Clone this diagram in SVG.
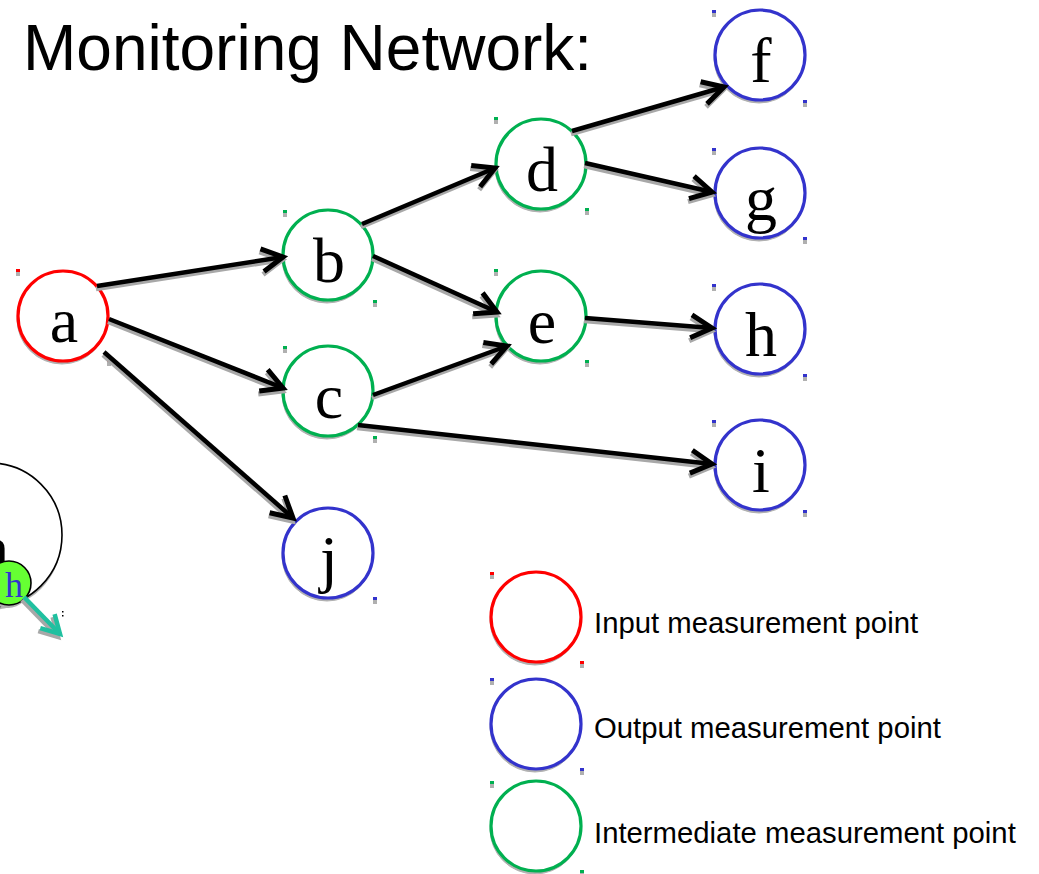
<svg xmlns="http://www.w3.org/2000/svg" width="1039" height="874" viewBox="0 0 1039 874">
<defs>
<style>
.bg{fill:#fff}
.sh{fill:#b0b0b0;stroke:#b0b0b0}
.node{fill:#fff;stroke-width:3.2}
.in{stroke:#ff0000}
.out{stroke:#3333cc}
.mid{stroke:#00b050}
.lbl{font-family:"Liberation Serif",serif;font-size:64px;text-anchor:middle;fill:#000}
.title{font-family:"Liberation Sans",sans-serif;font-size:64px;fill:#000}
.leg{font-family:"Liberation Sans",sans-serif;font-size:29.3px;fill:#000}
.e{fill:none;stroke:#000;stroke-width:4.5;marker-end:url(#ah)}
.es{fill:none;stroke:#a8a8a8;stroke-width:4.5;marker-end:url(#ahs)}
.sqr{fill:#ff0000}.sqb{fill:#3333cc}.sqg{fill:#00b050}.sqs{fill:#b0b0b0}
</style>
<marker id="ah" markerUnits="userSpaceOnUse" markerWidth="30" markerHeight="30" refX="26" refY="15" orient="auto" overflow="visible">
<path d="M5,3.5 L26,15 L5,26.5" fill="none" stroke="#000" stroke-width="5"/>
</marker>
<marker id="ahs" markerUnits="userSpaceOnUse" markerWidth="30" markerHeight="30" refX="26" refY="15" orient="auto" overflow="visible">
<path d="M5,3.5 L26,15 L5,26.5" fill="none" stroke="#a8a8a8" stroke-width="5"/>
</marker>
<marker id="aht" markerUnits="userSpaceOnUse" markerWidth="30" markerHeight="30" refX="22" refY="12" orient="auto" overflow="visible">
<path d="M4,2 L22,12 L4,22" fill="none" stroke="#20c0a0" stroke-width="4.5"/>
</marker>
<marker id="ahts" markerUnits="userSpaceOnUse" markerWidth="30" markerHeight="30" refX="22" refY="12" orient="auto" overflow="visible">
<path d="M4,2 L22,12 L4,22" fill="none" stroke="#a8a8a8" stroke-width="4.5"/>
</marker>
</defs>
<rect class="bg" x="0" y="0" width="1039" height="874"/>

<text class="title" x="23" y="70">Monitoring Network:</text>

<!-- stray dragged node on the left -->
<g id="ghost">
<circle cx="-10" cy="538" r="72" fill="#b0b0b0"/>
<circle cx="-10" cy="535" r="72" fill="#fff" stroke="#000" stroke-width="1.6"/>
<text class="lbl" x="-7" y="570">h</text>
<circle cx="8" cy="586" r="22" fill="#b0b0b0"/>
<circle cx="9" cy="583" r="22" fill="#66ff33" stroke="#000" stroke-width="1.6"/>
<text x="14" y="597" font-family="Liberation Serif, serif" font-size="36" fill="#3333cc" text-anchor="middle">h</text>
<path d="M22,600 L58,637" fill="none" stroke="#a8a8a8" stroke-width="4.5" marker-end="url(#ahts)"/>
<path d="M24,597 L60,634" fill="none" stroke="#20c0a0" stroke-width="4.5" marker-end="url(#aht)"/>
<rect x="62" y="611" width="1.5" height="1.5" fill="#000"/>
<rect x="62" y="615" width="1.5" height="1.5" fill="#000"/>
</g>

<g id="node-a">
<circle class="sh" cx="62" cy="319" r="45"/>
<circle class="node in" cx="63" cy="316" r="45"/>
<text class="lbl" x="64" y="342">a</text>
<rect class="sqs" x="16" y="272" width="4" height="4"/><rect class="sqr" x="16" y="269" width="4" height="3"/>
<rect class="sqs" x="107" y="362" width="4" height="4"/><rect class="sqr" x="107" y="359" width="4" height="3"/>
</g>
<g id="node-b">
<circle class="sh" cx="327" cy="258" r="45"/>
<circle class="node mid" cx="328" cy="255" r="45"/>
<text class="lbl" x="329" y="282">b</text>
<rect class="sqs" x="283" y="213" width="4" height="4"/><rect class="sqg" x="283" y="210" width="4" height="3"/>
<rect class="sqs" x="373" y="303" width="4" height="4"/><rect class="sqg" x="373" y="300" width="4" height="3"/>
</g>
<g id="node-c">
<circle class="sh" cx="327" cy="394" r="45"/>
<circle class="node mid" cx="328" cy="391" r="45"/>
<text class="lbl" x="329" y="418">c</text>
<rect class="sqs" x="283" y="349" width="4" height="4"/><rect class="sqg" x="283" y="346" width="4" height="3"/>
<rect class="sqs" x="373" y="439" width="4" height="4"/><rect class="sqg" x="373" y="436" width="4" height="3"/>
</g>
<g id="node-d">
<circle class="sh" cx="540" cy="167" r="45"/>
<circle class="node mid" cx="541" cy="164" r="45"/>
<text class="lbl" x="542" y="191">d</text>
<rect class="sqs" x="494" y="120" width="4" height="4"/><rect class="sqg" x="494" y="117" width="4" height="3"/>
<rect class="sqs" x="585" y="211" width="4" height="4"/><rect class="sqg" x="585" y="208" width="4" height="3"/>
</g>
<g id="node-e">
<circle class="sh" cx="540" cy="319" r="45"/>
<circle class="node mid" cx="541" cy="316" r="45"/>
<text class="lbl" x="542" y="343">e</text>
<rect class="sqs" x="494" y="272" width="4" height="4"/><rect class="sqg" x="494" y="269" width="4" height="3"/>
<rect class="sqs" x="585" y="363" width="4" height="4"/><rect class="sqg" x="585" y="360" width="4" height="3"/>
</g>
<g id="node-f">
<circle class="sh" cx="759" cy="58" r="45"/>
<circle class="node out" cx="760" cy="55" r="45"/>
<text class="lbl" x="761" y="82">f</text>
<rect class="sqs" x="712" y="13" width="4" height="4"/><rect class="sqb" x="712" y="10" width="4" height="3"/>
<rect class="sqs" x="803" y="103" width="4" height="4"/><rect class="sqb" x="803" y="100" width="4" height="3"/>
</g>
<g id="node-g">
<circle class="sh" cx="759" cy="196" r="45"/>
<circle class="node out" cx="760" cy="193" r="45"/>
<text class="lbl" x="761" y="220">g</text>
<rect class="sqs" x="712" y="151" width="4" height="4"/><rect class="sqb" x="712" y="148" width="4" height="3"/>
<rect class="sqs" x="803" y="240" width="4" height="4"/><rect class="sqb" x="803" y="237" width="4" height="3"/>
</g>
<g id="node-h">
<circle class="sh" cx="759" cy="332" r="45"/>
<circle class="node out" cx="760" cy="329" r="45"/>
<text class="lbl" x="761" y="356">h</text>
<rect class="sqs" x="712" y="287" width="4" height="4"/><rect class="sqb" x="712" y="284" width="4" height="3"/>
<rect class="sqs" x="803" y="377" width="4" height="4"/><rect class="sqb" x="803" y="374" width="4" height="3"/>
</g>
<g id="node-i">
<circle class="sh" cx="759" cy="468" r="45"/>
<circle class="node out" cx="760" cy="465" r="45"/>
<text class="lbl" x="761" y="492">i</text>
<rect class="sqs" x="712" y="423" width="4" height="4"/><rect class="sqb" x="712" y="420" width="4" height="3"/>
<rect class="sqs" x="803" y="513" width="4" height="4"/><rect class="sqb" x="803" y="510" width="4" height="3"/>
</g>
<g id="node-j">
<circle class="sh" cx="327" cy="556" r="45"/>
<circle class="node out" cx="328" cy="553" r="45"/>
<text class="lbl" x="329" y="580">j</text>
<rect class="sqs" x="283" y="511" width="4" height="4"/><rect class="sqb" x="283" y="508" width="4" height="3"/>
<rect class="sqs" x="373" y="600" width="4" height="4"/><rect class="sqb" x="373" y="597" width="4" height="3"/>
</g>

<g id="connectors">
<g transform="translate(-1,3)">
<path class="es" d="M97,286 L283,257"/>
<path class="es" d="M109,319 L283,388"/>
<path class="es" d="M104,352 L293,518"/>
<path class="es" d="M362,224 L495,168"/>
<path class="es" d="M373,256 L497,312"/>
<path class="es" d="M373,395 L507,346"/>
<path class="es" d="M358,425 L712,464"/>
<path class="es" d="M572,131 L724,87"/>
<path class="es" d="M585,163 L712,192"/>
<path class="es" d="M585,318 L712,328"/>
</g>
<path class="e" d="M97,286 L283,257"/>
<path class="e" d="M109,319 L283,388"/>
<path class="e" d="M104,352 L293,518"/>
<path class="e" d="M362,224 L495,168"/>
<path class="e" d="M373,256 L497,312"/>
<path class="e" d="M373,395 L507,346"/>
<path class="e" d="M358,425 L712,464"/>
<path class="e" d="M572,131 L724,87"/>
<path class="e" d="M585,163 L712,192"/>
<path class="e" d="M585,318 L712,328"/>
</g>

<g id="legend-input">
<circle class="sh" cx="535" cy="620" r="45"/>
<circle class="node in" cx="536" cy="617" r="45"/>
<rect class="sqs" x="490" y="575" width="4" height="4"/><rect class="sqr" x="490" y="572" width="4" height="3"/>
<rect class="sqs" x="580" y="664" width="4" height="4"/><rect class="sqr" x="580" y="661" width="4" height="3"/>
<text class="leg" x="594" y="633">Input measurement point</text>
</g>
<g id="legend-output">
<circle class="sh" cx="535" cy="727" r="45"/>
<circle class="node out" cx="536" cy="724" r="45"/>
<rect class="sqs" x="490" y="681" width="4" height="4"/><rect class="sqb" x="490" y="678" width="4" height="3"/>
<rect class="sqs" x="580" y="771" width="4" height="4"/><rect class="sqb" x="580" y="768" width="4" height="3"/>
<text class="leg" x="594" y="738">Output measurement point</text>
</g>
<g id="legend-mid">
<circle class="sh" cx="535" cy="829" r="45"/>
<circle class="node mid" cx="536" cy="826" r="45"/>
<rect class="sqs" x="490" y="784" width="4" height="4"/><rect class="sqg" x="490" y="781" width="4" height="3"/>
<rect class="sqs" x="580" y="873" width="4" height="4"/><rect class="sqg" x="580" y="870" width="4" height="3"/>
<text class="leg" x="594" y="843">Intermediate measurement point</text>
</g>
</svg>
